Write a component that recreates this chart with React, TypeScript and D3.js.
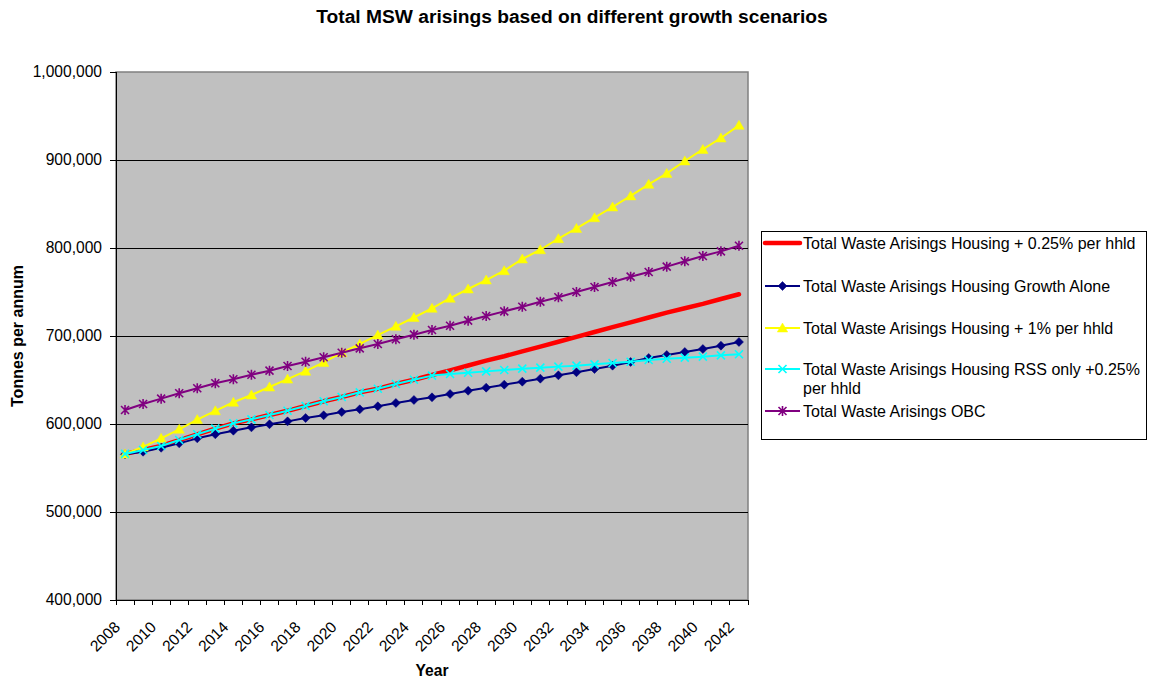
import React from "react";
import * as d3 from "d3";

const years: number[] = [];
for (let y = 2008; y <= 2042; y++) years.push(y);

const tickLabels = ["2008","2010","2012","2014","2016","2018","2020","2022","2024","2026","2028","2030","2032","2034","2036","2038","2040","2042"];
const yTicks = [400000, 500000, 600000, 700000, 800000, 900000, 1000000];

// values in thousands of tonnes
const housing025 = [566.0,570.5,575.0,581.8,588.3,594.7,600.7,605.3,610.2,615.0,620.5,625.8,630.7,636.0,640.1,645.5,650.3,655.7,661.0,666.5,672.0,677.0,682.5,688.0,693.5,699.0,704.5,710.0,715.5,721.0,726.5,731.5,736.5,742.0,747.4];
const growthAlone = [565.6,568.5,573.0,578.0,583.7,588.3,592.4,596.2,599.7,603.0,606.8,609.9,613.6,616.7,620.1,623.9,627.3,630.3,634.1,637.8,641.3,644.7,648.1,651.5,655.3,658.8,662.5,666.3,670.5,675.0,678.4,681.8,685.2,689.0,693.2];
const housing1pct = [566.0,574.0,583.7,594.0,605.0,615.0,624.7,633.0,642.0,651.0,660.0,670.0,681.0,691.0,701.0,711.0,721.0,731.5,742.9,753.4,763.6,774.2,787.5,798.0,810.6,822.3,834.4,846.6,859.2,872.4,884.8,898.9,912.0,925.0,939.4];
const rssOnly = [566.0,570.5,575.0,581.8,588.3,594.7,600.7,605.3,610.2,615.0,620.5,625.8,630.7,636.0,640.1,645.5,650.3,655.0,656.8,658.3,659.8,661.4,662.9,664.0,665.2,666.3,667.8,669.3,670.8,672.7,674.2,675.4,676.5,678.0,679.2];
const obc = [615.9,622.7,628.8,634.9,640.6,646.3,650.8,656.0,660.6,665.9,670.8,675.8,681.0,686.0,690.9,696.3,701.5,706.8,711.7,717.4,722.7,728.0,733.3,739.0,744.0,750.0,755.7,761.4,767.4,772.7,778.8,784.9,790.9,796.2,802.6];

const seriesNames = [
  "Total Waste Arisings Housing + 0.25% per hhld",
  "Total Waste Arisings Housing Growth Alone",
  "Total Waste Arisings Housing + 1% per hhld",
  "Total Waste Arisings Housing RSS only +0.25% per hhld",
  "Total Waste Arisings OBC",
];

type Marker = "none" | "diamond" | "triangle" | "x" | "star";
const series = [
  { name: seriesNames[0], values: housing025, color: "#FF0000", width: 4.5, marker: "none" as Marker },
  { name: seriesNames[1], values: growthAlone, color: "#000080", width: 2, marker: "diamond" as Marker },
  { name: seriesNames[2], values: housing1pct, color: "#FFFF00", width: 2, marker: "triangle" as Marker },
  { name: seriesNames[3], values: rssOnly, color: "#00FFFF", width: 2, marker: "x" as Marker },
  { name: seriesNames[4], values: obc, color: "#800080", width: 2, marker: "star" as Marker },
];

const FONT = "'Liberation Sans', Arial, Helvetica, sans-serif";

function MarkerShape({ type, x, y, color }: { type: Marker; x: number; y: number; color: string }) {
  if (type === "diamond") {
    return <path d={`M${x},${y - 4.5}L${x + 4.5},${y}L${x},${y + 4.5}L${x - 4.5},${y}Z`} fill={color} stroke={color} strokeWidth={0.5} />;
  }
  if (type === "triangle") {
    return <path d={`M${x},${y - 5}L${x + 5.2},${y + 4}L${x - 5.2},${y + 4}Z`} fill={color} stroke={color} strokeWidth={0.5} />;
  }
  if (type === "x") {
    const r = 4;
    return <path d={`M${x - r},${y - r}L${x + r},${y + r}M${x - r},${y + r}L${x + r},${y - r}`} stroke={color} strokeWidth={1.6} fill="none" />;
  }
  if (type === "star") {
    const r = 4;
    return <path d={`M${x - r},${y - r}L${x + r},${y + r}M${x - r},${y + r}L${x + r},${y - r}M${x},${y - 5}L${x},${y + 5}`} stroke={color} strokeWidth={1.6} fill="none" />;
  }
  return null;
}

export default function App() {
  const W = 1158, H = 681;
  const left = 116, right = 748, top = 72, bottom = 600;
  const x = d3.scaleBand<number>().domain(years).range([left, right]).padding(0);
  const bw = x.bandwidth();
  const cx = (yr: number) => (x(yr) as number) + bw / 2;
  const y = d3.scaleLinear().domain([400000, 1000000]).range([bottom, top]);
  const fmt = d3.format(",");

  const line = d3.line<number>().x((_, i) => cx(years[i])).y((v) => y(v * 1000));

  const legendRows = [243, 286, 328, 369, 411];

  return (
    <svg width={W} height={H} style={{ position: "absolute", left: 0, top: 0, background: "#fff" }} fontFamily={FONT}>
      <rect x={0} y={0} width={W} height={H} fill="#fff" />
      <text x={572} y={23} textAnchor="middle" fontWeight="bold" fontSize={19.2}>
        Total MSW arisings based on different growth scenarios
      </text>

      {/* plot area */}
      <rect x={left} y={top} width={right - left} height={bottom - top} fill="#C0C0C0" stroke="#808080" strokeWidth={1.5} />
      {yTicks.slice(1, -1).map((t) => (
        <line key={t} x1={left} x2={right} y1={y(t)} y2={y(t)} stroke="#000" strokeWidth={1} shapeRendering="crispEdges" />
      ))}

      {/* axes */}
      <line x1={left} x2={left} y1={top} y2={bottom} stroke="#000" strokeWidth={1} shapeRendering="crispEdges" />
      <line x1={left} x2={right} y1={bottom} y2={bottom} stroke="#000" strokeWidth={1} shapeRendering="crispEdges" />
      {yTicks.map((t) => (
        <g key={t}>
          <line x1={left - 6} x2={left} y1={y(t)} y2={y(t)} stroke="#000" shapeRendering="crispEdges" />
          <text x={left - 14} y={y(t)} dy="0.35em" textAnchor="end" fontSize={15.6}>{fmt(t)}</text>
        </g>
      ))}
      {years.concat([2043]).map((yr, i) => {
        const xp = left + i * bw;
        return <line key={yr} x1={xp} x2={xp} y1={bottom} y2={bottom + 5} stroke="#000" shapeRendering="crispEdges" />;
      })}
      {tickLabels.map((lbl) => {
        const xp = cx(+lbl) - 4;
        const yp = 628;
        return (
          <text key={lbl} transform={`translate(${xp},${yp}) rotate(-45)`} textAnchor="end" fontSize={15.6}>{lbl}</text>
        );
      })}
      <text x={(left + right) / 2} y={676} textAnchor="middle" fontWeight="bold" fontSize={15.6}>Year</text>
      <text transform={`translate(23,${(top + bottom) / 2}) rotate(-90)`} textAnchor="middle" fontWeight="bold" fontSize={16}>Tonnes per annum</text>

      {/* series */}
      {series.map((s) => (
        <g key={s.name}>
          <path d={line(s.values) || ""} fill="none" stroke={s.color} strokeWidth={s.width} strokeLinejoin="round" strokeLinecap="round" />
          {s.values.map((v, i) => (
            <MarkerShape key={i} type={s.marker} x={cx(years[i])} y={y(v * 1000)} color={s.color} />
          ))}
        </g>
      ))}

      {/* legend */}
      <rect x={761} y={231} width={385} height={208} fill="#fff" stroke="#000" strokeWidth={1} shapeRendering="crispEdges" />
      {series.map((s, i) => {
        const ly = legendRows[i];
        const isTwo = i === 3;
        return (
          <g key={s.name}>
            <line x1={765} x2={800} y1={ly} y2={ly} stroke={s.color} strokeWidth={s.width} strokeLinecap={i === 0 ? "round" : "butt"} />
            <MarkerShape type={s.marker} x={782.5} y={ly} color={s.color} />
            {isTwo ? (
              <text fontSize={16} x={803} y={ly + 5.5}>
                <tspan x={803}>Total Waste Arisings Housing RSS only +0.25%</tspan>
                <tspan x={803} dy={19}>per hhld</tspan>
              </text>
            ) : (
              <text fontSize={16} x={803} y={ly + 5.5}>{s.name}</text>
            )}
          </g>
        );
      })}
    </svg>
  );
}
